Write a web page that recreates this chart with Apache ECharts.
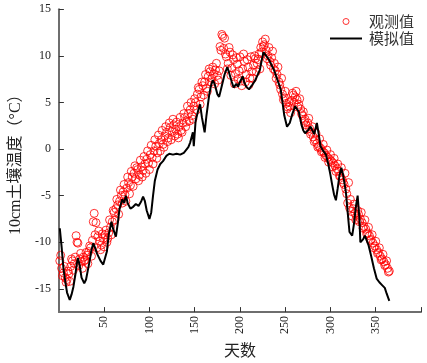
<!DOCTYPE html>
<html>
<head>
<meta charset="utf-8">
<style>
  html, body { margin: 0; padding: 0; background: #ffffff; }
  #chart { width: 427px; height: 363px; }
</style>
<script src="https://cdn.jsdelivr.net/npm/echarts@6/dist/echarts.min.js"></script>
</head>
<body>
<div id="chart"></div>
<script>
// Observed 10cm soil temperature, odd days (1,3,5,...,365)
var obsOddStart = 1;
var obsOddTemp = [
  -12.0,-12.8,-13.3,-13.8,-14.0,-13.4,-12.6,-12.0,-12.3,-9.3,
  -10.1,-11.8,-12.1,-11.6,-11.9,-11.4,-11.0,-10.6,-9.8,-6.9,
  -7.9,-9.4,-9.9,-10.3,-9.6,-9.2,-10.0,-9.0,-8.4,-7.8,
  -6.8,-6.4,-6.0,-5.6,-5.0,-4.6,-4.9,-4.2,-3.6,-3.9,
  -3.0,-2.6,-3.2,-2.2,-2.8,-1.9,-2.3,-1.6,-1.1,-1.5,
  -0.6,-0.9,-0.2,0.3,-0.4,0.6,1.0,0.5,1.4,1.8,
  1.2,2.3,1.9,2.6,2.1,1.6,2.4,2.0,2.8,3.4,
  2.9,3.8,4.2,3.6,4.6,5.0,5.9,6.4,5.6,6.8,
  7.2,6.5,7.8,8.3,7.6,8.1,8.5,7.9,8.4,10.6,
  12.1,11.9,9.9,9.2,10.4,8.7,9.6,8.1,9.1,8.4,
  7.3,8.6,9.4,8.0,8.8,7.6,8.3,9.0,9.7,9.2,
  10.2,10.9,11.5,11.2,10.6,10.0,9.4,9.8,8.6,8.4,
  8.0,7.2,6.4,5.9,5.5,4.9,4.5,4.6,5.2,5.8,
  5.6,5.3,4.8,4.3,3.6,3.0,2.6,2.8,2.2,1.8,
  1.3,1.0,0.6,0.3,0.1,-0.2,-0.4,-0.7,-0.9,-1.1,
  -1.3,-1.5,-1.8,-2.1,-2.4,-2.9,-3.3,-3.8,-4.3,-5.8,
  -6.3,-6.7,-6.4,-6.9,-7.2,-7.0,-7.5,-7.9,-8.3,-8.6,
  -9.0,-9.3,-9.7,-10.1,-10.4,-10.8,-11.1,-11.5,-11.8,-12.1,
  -12.4,-12.8,-13.1
];
// Observed 10cm soil temperature, even days (2,4,6,...,364)
var obsEvenStart = 2;
var obsEvenTemp = [
  -11.4,-13.6,-12.6,-14.3,-13.1,-14.2,-11.8,-13.0,-11.6,-10.0,
  -12.5,-11.2,-12.8,-12.0,-11.1,-12.3,-10.4,-11.5,-7.8,-9.2,
  -10.6,-8.8,-10.8,-9.1,-10.5,-8.7,-9.6,-7.6,-9.2,-6.6,
  -7.6,-5.4,-7.0,-4.4,-5.8,-3.8,-5.6,-3.0,-4.8,-2.4,
  -4.0,-1.8,-2.0,-3.4,-1.2,-3.0,-0.8,-2.6,-0.2,-2.2,
  0.4,-1.6,1.0,-1.0,1.5,-0.2,2.0,0.2,2.4,0.8,
  2.8,1.0,3.2,1.4,2.9,1.2,3.4,1.8,3.8,2.4,
  4.6,3.0,5.0,3.2,5.4,4.2,6.6,4.8,7.2,5.8,
  8.0,6.2,8.6,7.2,8.8,7.0,9.2,7.4,11.0,12.3,
  10.8,10.2,8.6,10.9,7.9,10.1,7.0,9.8,7.5,9.9,
  6.8,10.2,7.2,9.6,6.9,9.9,7.6,10.0,8.3,9.6,
  8.6,10.4,11.0,11.8,9.7,10.9,9.0,10.5,9.2,7.6,
  8.8,6.9,7.6,5.3,6.2,4.3,5.0,3.9,6.0,5.0,
  6.2,4.5,5.4,3.8,4.0,3.2,2.1,3.3,1.6,2.4,
  0.8,1.7,0.2,1.1,-0.3,0.5,-0.9,-0.1,-1.4,-0.6,
  -1.9,-1.0,-2.4,-1.6,-2.9,-2.0,-3.6,-2.6,-4.8,-3.6,
  -5.4,-7.2,-5.9,-7.6,-6.6,-7.8,-6.8,-8.5,-7.6,-9.1,
  -8.4,-9.8,-9.2,-10.6,-9.9,-11.2,-10.6,-11.9,-11.3,-12.5,
  -12.0,-13.2
];

// Simulated temperature
var simDays = [1,3,5,7,9,12,14,16,18,20,21,23,25,28,30,32,34,36,38,40,42,44,46,49,51,53,55,58,60,63,65,67,70,72,74,76,79,82,85,88,91,93,95,97,100,102,104,106,109,112,115,119,122,126,130,134,138,140,143,145,148,149,151,154,156,158,161,163,166,168,170,172,175,177,180,183,186,188,191,193,196,198,200,203,205,207,210,213,217,219,222,224,226,229,232,235,238,240,243,245,247,249,252,255,258,261,263,265,268,270,272,275,278,280,282,285,287,289,292,295,298,300,302,304,306,308,310,312,314,317,319,321,324,326,328,330,332,333,336,338,340,342,345,348,351,354,357,360,362,365];
var simTemp = [-8.5,-10.5,-12.8,-14.2,-15.4,-16.2,-15.6,-14.8,-13.6,-12.2,-11.7,-12.5,-13.8,-14.4,-14.0,-13.0,-12.0,-10.8,-10.1,-10.6,-11.2,-11.6,-12.0,-12.4,-12.2,-11.0,-9.2,-7.8,-8.6,-9.4,-8.0,-6.4,-5.4,-5.8,-5.0,-5.8,-6.4,-6.2,-5.9,-6.1,-5.6,-5.1,-5.6,-6.6,-7.5,-6.8,-5.0,-3.4,-2.2,-1.6,-1.3,-0.7,-0.5,-0.6,-0.5,-0.6,-0.4,-0.6,0.2,0.7,1.8,0.3,3.0,4.2,4.8,3.4,1.8,3.6,5.8,6.8,7.4,7.0,5.9,5.6,6.8,8.0,8.8,8.2,7.2,6.6,7.0,6.7,7.2,7.8,7.1,6.7,6.4,6.8,7.4,7.2,8.5,9.5,10.4,10.0,9.6,9.0,8.4,7.8,7.0,6.4,5.0,3.6,2.4,2.8,3.8,4.6,4.6,4.0,2.6,2.0,1.7,2.0,2.4,2.0,1.6,2.8,1.6,0.3,-0.2,-0.6,-1.8,-2.8,-3.9,-4.9,-5.5,-4.2,-2.8,-2.0,-2.8,-4.6,-6.8,-8.9,-9.3,-8.0,-6.2,-5.0,-7.5,-10.0,-9.7,-9.3,-9.8,-10.3,-11.5,-12.8,-13.9,-14.3,-14.6,-14.9,-15.5,-16.3];

var yTicks = [-15, -10, -5, 0, 5, 10, 15];
var xTickLabels = [50, 100, 150, 200, 250, 300, 350];
var xTicks = [50, 100, 150, 200, 250, 300, 350, 400];

var obsData = [];
obsOddTemp.forEach(function (v, i) { obsData.push([obsOddStart + i * 2, v]); });
obsEvenTemp.forEach(function (v, i) { obsData.push([obsEvenStart + i * 2, v]); });
var simData = simDays.map(function (d, i) { return [d, simTemp[i]]; });

var serif = '"Liberation Serif", "Times New Roman", "Noto Sans CJK SC", serif';
var cjk = '"Noto Sans CJK SC", "Liberation Sans", sans-serif';

var chart = echarts.init(document.getElementById('chart'), null, { renderer: 'canvas' });
chart.setOption({
  animation: false,
  backgroundColor: '#ffffff',
  grid: { left: 43, right: 6, top: 9.3, bottom: 48.7, containLabel: false },
  legend: {
    orient: 'vertical',
    left: 325,
    top: 9,
    itemWidth: 32,
    itemHeight: 6,
    itemGap: 2,
    textStyle: { fontFamily: cjk, fontSize: 15, color: '#333', lineHeight: 15, padding: [0, 0, 0, 2] },
    data: [
      { name: '观测值', icon: 'circle', itemStyle: { color: 'transparent', borderColor: '#ff0000', borderWidth: 1 } },
      { name: '模拟值', icon: 'path://M0,0 L32,0 L32,2 L0,2 Z', itemStyle: { color: '#000000', borderWidth: 0 } }
    ]
  },
  xAxis: {
    type: 'value',
    min: 0,
    max: 400,
    interval: 50,
    name: '天数',
    nameLocation: 'middle',
    nameGap: 28,
    nameTextStyle: { fontFamily: cjk, fontSize: 16, color: '#222' },
    axisLine: { show: true, onZero: false, lineStyle: { color: '#6e6e6e', width: 2 } },
    axisTick: { show: true, inside: true, length: 5, customValues: xTicks, lineStyle: { color: '#333', width: 1 } },
    axisLabel: { show: true, rotate: 90, margin: 4, customValues: xTickLabels, fontFamily: serif, fontSize: 12, color: '#222' },
    splitLine: { show: false }
  },
  yAxis: {
    type: 'value',
    min: -17.5,
    max: 15,
    name: '10cm土壤温度（°C）',
    nameLocation: 'middle',
    nameGap: 24,
    nameTextStyle: { fontFamily: serif, fontSize: 16, color: '#222' },
    axisLine: { show: true, onZero: false, lineStyle: { color: '#6e6e6e', width: 2 } },
    axisTick: { show: true, inside: true, length: 5, customValues: yTicks, lineStyle: { color: '#333', width: 1 } },
    axisLabel: { show: true, margin: 8, customValues: yTicks, fontFamily: serif, fontSize: 12, color: '#222' },
    splitLine: { show: false }
  },
  series: [
    {
      name: '观测值',
      type: 'scatter',
      data: obsData,
      symbol: 'circle',
      symbolSize: 8,
      itemStyle: { color: 'transparent', borderColor: '#ff0000', borderWidth: 1 },
      z: 2
    },
    {
      name: '模拟值',
      type: 'line',
      data: simData,
      showSymbol: false,
      symbol: 'none',
      lineStyle: { color: '#000000', width: 2 },
      itemStyle: { color: '#000000' },
      z: 3
    }
  ]
});
</script>
</body>
</html>
